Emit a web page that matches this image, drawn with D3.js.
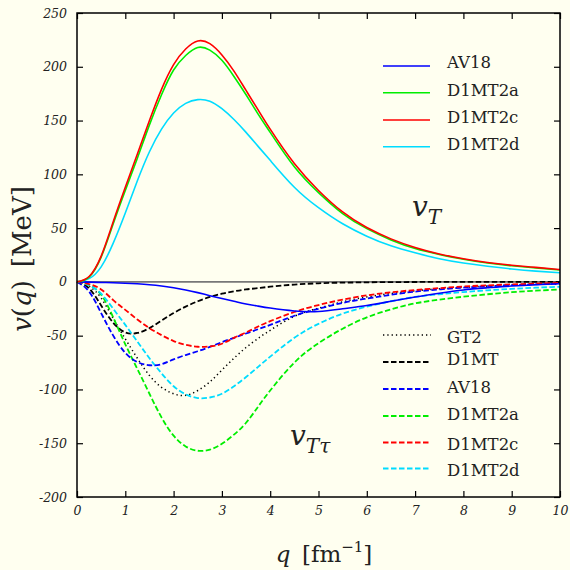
<!DOCTYPE html>
<html>
<head>
<meta charset="utf-8">
<script src="https://cdn.jsdelivr.net/npm/d3@7"></script>
<style>
  html, body { margin: 0; padding: 0; background: #fffff0; }
  svg { display: block; }
</style>
</head>
<body>
<svg id="chart" width="570" height="570"></svg>
<script>
// ---------------- data ----------------
const q = [0,0.25,0.5,0.75,1,1.25,1.5,1.75,2,2.25,2.5,2.75,3,3.25,3.5,3.75,4,4.5,5,5.5,6,6.5,7,7.5,8,8.5,9,9.5,10];

// v_T (solid)
const vT_AV18    = [0,-0.2,-0.5,-0.8,-1.2,-1.8,-2.6,-3.8,-5.5,-7.5,-10,-12.8,-15.5,-18,-20.5,-22.5,-24.3,-27,-27.5,-25,-22,-18,-14,-10.5,-7.5,-5.5,-3.8,-2.6,-1.7];
const vT_D1MT2a  = [0,4.5,23,54,85,115,146,174,197,210.5,218,215.5,206,191,174,156,139,107,83,63.5,49.5,39,31,25.5,21,17.5,15,13,11];
const vT_D1MT2c  = [0,5,24,56,88,119,150,179,202,216.5,224,221.5,211,196,178,160,142,110,85,65,50.5,40,32,26,21.5,18,15.5,13.5,11.5];
const vT_D1MT2d  = [0,3,14,36,64,94,121,142,157,166,169.5,168,161,151,139,126,113,88,69,54,42.5,33.5,27,21.5,17.5,14.5,12,10,8.5];

// v_Ttau (dashed / dotted)
const vTt_GT2    = [0,-4,-15,-34,-53,-71,-87,-98,-104,-105.5,-101,-93,-82,-71,-61,-52.5,-45,-32,-24.5,-18.5,-14,-10.8,-8.3,-6.4,-5,-3.9,-3,-2.3,-1.8];
const vTt_D1MT   = [0,-6,-22,-38,-47,-47.5,-43,-36,-29,-23,-18,-14,-11,-8.8,-7,-5.8,-4.5,-2.5,-1.3,-0.7,-0.4,-0.2,-0.1,0,0,0,0,0,0];
const vTt_AV18   = [0,-9,-29,-50,-66,-74.5,-77.5,-76.5,-72,-68,-64.5,-60.5,-56,-52,-48,-44,-40,-31.5,-25,-19.5,-15.5,-12,-9,-7,-5.3,-4,-3,-2.2,-1.6];
const vTt_D1MT2a = [0,-3,-12,-33,-58,-81,-104,-126,-143,-153,-157,-156,-150.5,-142,-131,-116,-101,-75,-57,-43.5,-33,-25.5,-20,-16.5,-13.8,-11.5,-9.6,-8.2,-7];
const vTt_D1MT2c = [0,-2,-7,-17,-26,-35,-43,-49.5,-55,-58.5,-60.3,-60,-57.5,-52,-47,-41.5,-36.5,-28,-21.5,-16.5,-12.5,-9.7,-7.5,-5.8,-4.3,-3.2,-2.3,-1.6,-1];
const vTt_D1MT2d = [0,-3,-11,-25,-40,-55.5,-71,-85,-97,-104.5,-108,-107.5,-104,-97,-88.5,-79,-69.5,-52,-39,-29.5,-23,-18,-14,-11.5,-9.5,-7.8,-6.5,-5.4,-4.5];

const xTicks = [0,1,2,3,4,5,6,7,8,9,10];
const yTicks = [-200,-150,-100,-50,0,50,100,150,200,250];

const solidNames = ["AV18","D1MT2a","D1MT2c","D1MT2d"];
const dashNames  = ["GT2","D1MT","AV18","D1MT2a","D1MT2c","D1MT2d"];

// ---------------- layout ----------------
const W = 570, H = 570;
const L = 77, R = 560, T = 13, B = 497;
const svg = d3.select("#chart");
svg.append("rect").attr("width", W).attr("height", H).attr("fill", "#fffff0");

const x = d3.scaleLinear().domain([0, 10]).range([L, R]);
const y = d3.scaleLinear().domain([-200, 250]).range([B, T]);

const COL = { blue: "#0000ff", green: "#00ee00", red: "#ff0000", cyan: "#00dcff", black: "#000000" };

const serif = "'DejaVu Serif', serif";

// zero line
svg.append("line").attr("x1", L).attr("x2", R).attr("y1", y(0)).attr("y2", y(0))
  .attr("stroke", "#777").attr("stroke-width", 1.6);

// axes (inward ticks on all sides)
function styleAxis(g, labels) {
  g.select(".domain").remove();
  g.selectAll(".tick line").attr("stroke", "#000").attr("stroke-width", 1.2);
  g.selectAll(".tick text")
    .style("font-family", serif).style("font-style", "italic")
    .style("font-size", "12.5px").attr("fill", "#222");
  if (!labels) g.selectAll(".tick text").remove();
}
const fmt = d => String(d);
svg.append("g").attr("transform", `translate(0,${B})`)
  .call(d3.axisBottom(x).tickValues(xTicks).tickSize(-6).tickPadding(9).tickFormat(fmt))
  .call(g => styleAxis(g, true));
svg.append("g").attr("transform", `translate(0,${T})`)
  .call(d3.axisTop(x).tickValues(xTicks).tickSize(-6))
  .call(g => styleAxis(g, false));
svg.append("g").attr("transform", `translate(${L},0)`)
  .call(d3.axisLeft(y).tickValues(yTicks).tickSize(-6).tickPadding(10).tickFormat(fmt))
  .call(g => styleAxis(g, true));
svg.append("g").attr("transform", `translate(${R},0)`)
  .call(d3.axisRight(y).tickValues(yTicks).tickSize(-6))
  .call(g => styleAxis(g, false));

// curves
const line = d3.line().x((d, i) => x(q[i])).y(d => y(d)).curve(d3.curveNatural);
const plot = svg.append("g");
function draw(vals, color, dash, width) {
  plot.append("path").attr("d", line(vals)).attr("fill", "none")
    .attr("stroke", color).attr("stroke-width", width)
    .attr("stroke-dasharray", dash);
}
const DASH = "5.5,2.5", DOT = "1.3,3";
draw(vTt_GT2, COL.black, DOT, 1.5);
draw(vTt_D1MT, COL.black, DASH, 1.8);
draw(vTt_D1MT2a, COL.green, DASH, 1.8);
draw(vTt_D1MT2d, COL.cyan, DASH, 1.8);
draw(vTt_AV18, COL.blue, DASH, 1.8);
draw(vTt_D1MT2c, COL.red, DASH, 1.8);
draw(vT_AV18, COL.blue, null, 1.6);
draw(vT_D1MT2d, COL.cyan, null, 1.6);
draw(vT_D1MT2a, COL.green, null, 1.6);
draw(vT_D1MT2c, COL.red, null, 1.6);

// frame
svg.append("rect").attr("x", L).attr("y", T).attr("width", R - L).attr("height", B - T)
  .attr("fill", "none").attr("stroke", "#000").attr("stroke-width", 1.5);

function txt(xp, yp, s, size, italic) {
  return svg.append("text").attr("x", xp).attr("y", yp).text(s)
    .style("font-family", serif).style("font-size", size + "px")
    .style("font-style", italic ? "italic" : "normal").attr("fill", "#222");
}

// legends
const solidCols = [COL.blue, COL.green, COL.red, COL.cyan];
const solidLineY = [66, 92.7, 120, 146.7];
const solidTextY = [68, 96, 123, 150];
solidNames.forEach((n, i) => {
  svg.append("line").attr("x1", 383).attr("x2", 430).attr("y1", solidLineY[i]).attr("y2", solidLineY[i])
    .attr("stroke", solidCols[i]).attr("stroke-width", 1.6);
  txt(447, solidTextY[i], n, 16.5, false);
});
const dashCols = [COL.black, COL.black, COL.blue, COL.green, COL.red, COL.cyan];
const dashLineY = [335, 362, 389, 416, 442.5, 468.5];
const dashTextY = [342.5, 365, 393, 419.5, 450, 476];
dashNames.forEach((n, i) => {
  svg.append("line").attr("x1", 383).attr("x2", 431).attr("y1", dashLineY[i]).attr("y2", dashLineY[i])
    .attr("stroke", dashCols[i]).attr("stroke-width", i === 0 ? 1.5 : 1.8)
    .attr("stroke-dasharray", i === 0 ? DOT : DASH);
  txt(447, dashTextY[i], n, 16.5, false);
});

// curve-group labels
const lab1 = txt(412, 216, "", 28, true);
lab1.append("tspan").text("v");
lab1.append("tspan").style("font-size", "20px").attr("dy", 8).text("T");

const lab2 = txt(290, 445, "", 28, true);
lab2.append("tspan").text("v");
lab2.append("tspan").style("font-size", "20px").attr("dy", 8).text("T");
lab2.append("tspan").style("font-size", "20px").text("τ");

// axis titles
const xt = txt(324, 562, "", 23, false).attr("text-anchor", "middle");
xt.append("tspan").style("font-style", "italic").text("q");
xt.append("tspan").text("\u2002[fm");
xt.append("tspan").style("font-size", "15px").attr("dy", -10).text("\u22121");
xt.append("tspan").attr("dy", 10).text("]");

const yt = svg.append("text").attr("transform", "translate(31,259) rotate(-90)").attr("text-anchor", "middle")
  .style("font-family", serif).style("font-size", "26px").attr("fill", "#222");
yt.append("tspan").style("font-style", "italic").text("v");
yt.append("tspan").text("(");
yt.append("tspan").style("font-style", "italic").text("q");
yt.append("tspan").text(")\u2002[MeV]");
</script>
</body>
</html>
